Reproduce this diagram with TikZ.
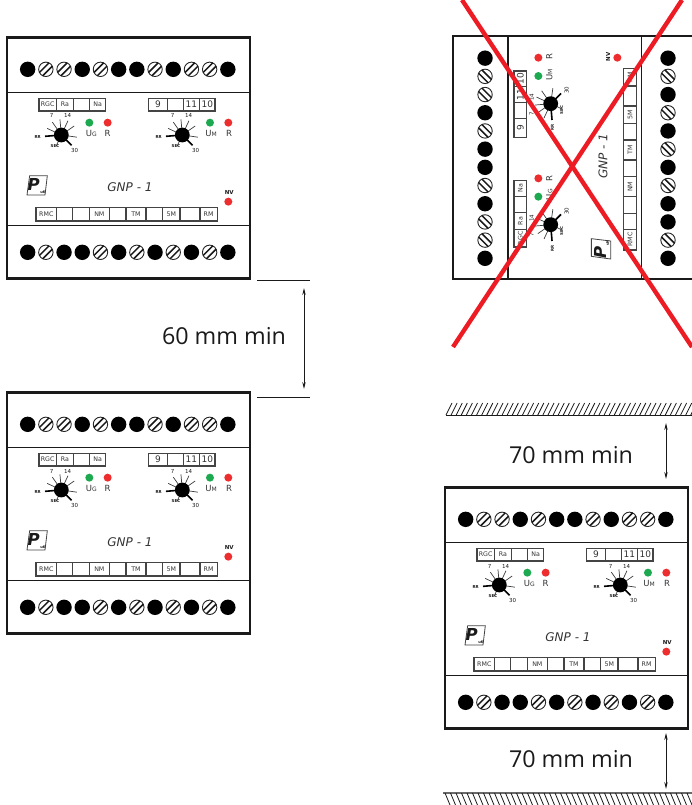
\documentclass[tikz,border=0pt]{standalone}
\usepackage{fontspec}
\setmainfont{DejaVu Sans}
\newfontfamily\dimfont{Open Sans}
\usetikzlibrary{arrows.meta}
\definecolor{crossred}{HTML}{ED1C24}
\definecolor{ledred}{HTML}{EE2E2E}
\definecolor{ledgreen}{HTML}{1DA94F}
\definecolor{ink}{HTML}{1A1A1A}
\definecolor{strip}{HTML}{444444}
\definecolor{soft}{HTML}{333333}
\tikzset{
  devbox/.style={draw=ink,line width=2.6pt},
  devline/.style={draw=ink,line width=1.6pt},
  stripbox/.style={draw=strip,line width=1.1pt},
  termblack/.style={fill=black},
  termopen/.style={draw=black!85,line width=0.9pt,fill=white},
  termslash/.style={draw=black!90,line width=1.5pt},
  tick/.style={draw=ink!85,line width=0.7pt},
  thicktick/.style={draw=black,line width=1.6pt},
  cell/.style={inner sep=0pt,text=soft,font=\fontsize{6.3}{7}\selectfont},
  bigcell/.style={inner sep=0pt,text=soft,font=\fontsize{9}{10}\selectfont},
  tiny/.style={inner sep=0pt,text=ink,font=\fontsize{4}{5}\selectfont\bfseries},
  knobnum/.style={inner sep=0pt,text=ink,font=\fontsize{5.5}{6}\selectfont},
  ledtxt/.style={inner sep=0pt,text=soft,font=\fontsize{8.5}{9}\selectfont},
  modeltxt/.style={inner sep=0pt,text=soft,font=\fontsize{12}{14}\selectfont\itshape},
  nvtxt/.style={inner sep=0pt,text=ink,font=\fontsize{5.5}{6}\selectfont\bfseries},
  dimtxt/.style={inner sep=0pt,text=ink,font=\fontsize{23.3}{27}\dimfont},
  dimline/.style={draw=ink,line width=0.8pt},
  dimarrow/.style={draw=ink,line width=0.7pt,{Stealth[length=7pt,width=3.4pt]}-{Stealth[length=7pt,width=3.4pt]}},
  hatch/.style={draw=ink,line width=0.8pt},
  cross/.style={draw=crossred,line width=4.4pt},
}
\newcommand{\termrow}[3]{%
  \foreach \i in {#2} {\pgfmathsetmacro{\tx}{83+54.6*\i}
    \fill[termblack] (\tx,#1) circle[radius=7.7pt];}
  \foreach \i in {#3} {\pgfmathsetmacro{\tx}{83+54.6*\i}
    \path[termopen] (\tx,#1) circle[radius=7.2pt];
    \draw[termslash] (\tx-9.5,#1+19.5) -- (\tx+19.5,#1-9.5);
    \draw[termslash] (\tx-19.5,#1+9.5) -- (\tx+9.5,#1-19.5);}
}
\newcommand{\knob}[6]{%
  \foreach \a/\r in {155/47,125/47,95/47,65/47,35/47,-8/47,-115/38}
    \draw[tick] (#2,#3) -- ++({\a}:{\r*1pt/3});
  \draw[thicktick] (#2,#3) -- ++(-49,4);
  \draw[thicktick] (#2,#3) -- ++(31,31);
  \fill[black] (#2,#3) circle[radius=7.4pt];
  \node[tiny] (#1a) at (#2-71,#3+5) {#4};
  \node[tiny] (#1b) at (#2-19,#3+33) {#5};
  \node[knobnum] (#1c) at (#2+40,#3+48) {#6};
  \node[knobnum] (#1d) at (#2-29,#3-57) {7};
  \node[knobnum] (#1e) at (#2+19,#3-57) {14};
}
\newcommand{\device}[1]{%
  \path[devbox] (21,22) rectangle (750,745);
  \path[devline] (21,187) -- (750,187);
  \path[devline] (21,587) -- (750,587);
  \termrow{118}{0,3,5,6,8,11}{1,2,4,7,9,10}
  \termrow{667}{0,2,3,5,7,9,11}{1,4,6,8,10}
  \path[stripbox] (117,205) rectangle (317,243);
  \foreach \x in {170,220,268} \draw[stripbox] (\x,205) -- (\x,243);
  \node[cell] (#1-rgc) at (143,224) {RGC};
  \node[cell] (#1-ra) at (195,224) {Ra};
  \node[cell] (#1-na) at (293,224) {Na};
  \path[stripbox] (445,205) rectangle (645,243);
  \foreach \x in {502,550,598} \draw[stripbox] (\x,205) -- (\x,243);
  \node[bigcell] (#1-nine) at (474,224) {9};
  \node[bigcell] (#1-eleven) at (574,224) {11};
  \node[bigcell] (#1-ten) at (622,224) {10};
  \path[stripbox] (108,533) rectangle (652,573);
  \foreach \x in {170,218,268,328,378,438,488,540,600} \draw[stripbox] (\x,533) -- (\x,573);
  \node[cell] (#1-rmc) at (139,553) {RMC};
  \node[cell] (#1-nm) at (298,553) {NM};
  \node[cell] (#1-tm) at (408,553) {TM};
  \node[cell] (#1-fm) at (514,553) {5M};
  \node[cell] (#1-rm) at (626,553) {RM};
  \knob{#1-kl}{184}{315}{RR}{SEC}{30}
  \knob{#1-kr}{547}{315}{RR}{SEC}{30}
  \fill[ledgreen] (268,278) circle[radius=4pt];
  \fill[ledred] (323,278) circle[radius=4pt];
  \fill[ledgreen] (630,278) circle[radius=4pt];
  \fill[ledred] (685,278) circle[radius=4pt];
  \fill[ledred] (685,515) circle[radius=4pt];
  \node[ledtxt] (#1-ug) at (274,311) {U{\fontsize{6}{7}\selectfont G}};
  \node[ledtxt] (#1-r1) at (323,311) {R};
  \node[ledtxt] (#1-um) at (633,311) {U{\fontsize{6}{7}\selectfont M}};
  \node[ledtxt] (#1-r2) at (687,311) {R};
  \node[nvtxt] (#1-nv) at (688,487) {NV};
  \node[modeltxt] (#1-model) at (390,472) {GNP - 1};
  \draw[draw=strip,line width=0.8pt,fill=white] (89,437) -- (142,437) -- (135,495) -- (81,495) -- cycle;
  \node[inner sep=0pt,text=ink,font=\fontsize{16.5}{18}\selectfont\bfseries\itshape] (#1-logo) at (101,463) {P};
  \node[inner sep=0pt,text=ink,font=\fontsize{3.6}{5}\selectfont\bfseries] (#1-uk) at (129,486) {uK};
}
\begin{document}
\begin{tikzpicture}[x=1pt,y=1pt]
\useasboundingbox (0,-805) rectangle (692,0);
\clip (0,-805) rectangle (692,0);

\begin{scope}[shift={(0pt,-30pt)},x=0.3333pt,y=-0.3333pt]
  \device{a}
\end{scope}
\begin{scope}[shift={(0pt,-385pt)},x=0.3333pt,y=-0.3333pt]
  \device{b}
\end{scope}
\begin{scope}[shift={(438pt,-480pt)},x=0.3333pt,y=-0.3333pt]
  \device{c}
\end{scope}
\begin{scope}[shift={(445.7pt,-286pt)},rotate=90,transform shape,x=0.3333pt,y=-0.3333pt]
  \device{d}
\end{scope}

\coordinate (x1a) at (462,0);
\coordinate (x1b) at (692,-347);
\coordinate (x2a) at (682,0);
\coordinate (x2b) at (453,-347);
\draw[cross] (x1a) -- (x1b);
\draw[cross] (x2a) -- (x2b);

\coordinate (l1a) at (257,-280);
\coordinate (l1b) at (310,-280);
\coordinate (l2a) at (257,-397);
\coordinate (l2b) at (310,-397);
\coordinate (d1a) at (304,-288);
\coordinate (d1b) at (304,-389);
\draw[dimline] (l1a) -- (l1b);
\draw[dimline] (l2a) -- (l2b);
\draw[dimarrow] (d1a) -- (d1b);
\node[dimtxt] (t60) at (224,-336) {60 mm min};

\coordinate (d2a) at (666,-423);
\coordinate (d2b) at (666,-479);
\coordinate (d3a) at (666,-733);
\coordinate (d3b) at (666,-789);
\draw[dimarrow] (d2a) -- (d2b);
\draw[dimarrow] (d3a) -- (d3b);
\node[dimtxt] (t70a) at (571,-455) {70 mm min};
\node[dimtxt] (t70b) at (571,-759) {70 mm min};

\coordinate (w1a) at (446,-415);
\coordinate (w1b) at (692,-415);
\draw[hatch,line width=1pt] (w1a) -- (w1b);
\foreach \i in {0,...,49} \draw[hatch] (446+\i*5.1,-415) -- (452+\i*5.1,-403);
\coordinate (w2a) at (443,-793);
\coordinate (w2b) at (692,-793);
\draw[draw=ink!65,line width=1.5pt] (w2a) -- (w2b);
\foreach \i in {0,...,45} \draw[hatch] (445+\i*5.5,-793) -- (450+\i*5.5,-805);
\end{tikzpicture}
\end{document}
